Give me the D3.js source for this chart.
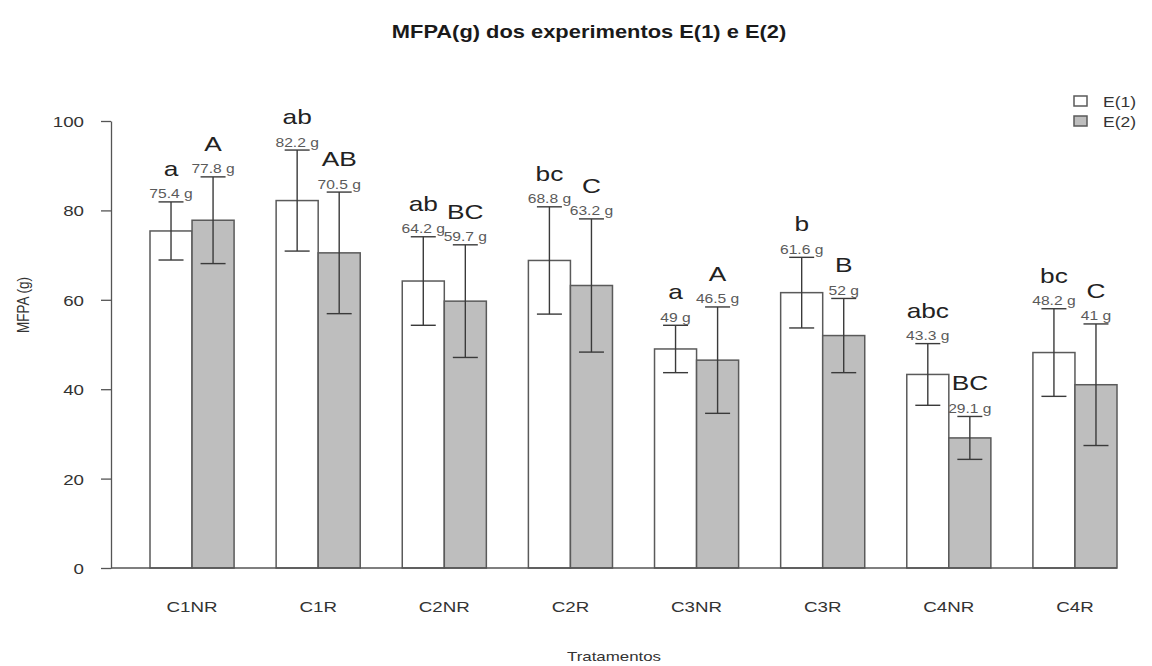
<!DOCTYPE html>
<html>
<head>
<meta charset="utf-8">
<script src="https://cdn.jsdelivr.net/npm/d3@7"></script>
<style>
  html, body { margin: 0; padding: 0; background: #fff; }
  svg { display: block; font-family: "Liberation Sans", Arial, Helvetica, sans-serif; }
</style>
</head>
<body>
<svg id="chart" width="1152" height="666"></svg>
<script>
// Treatments and series
const categories = ["C1NR", "C1R", "C2NR", "C2R", "C3NR", "C3R", "C4NR", "C4R"];
const seriesNames = ["E(1)", "E(2)"];

// Mean fresh mass (g) per treatment
const meansE1 = [75.4, 82.2, 64.2, 68.8, 49, 61.6, 43.3, 48.2];
const meansE2 = [77.8, 70.5, 59.7, 63.2, 46.5, 52, 29.1, 41];

// Error bar half-lengths (g)
const errE1 = [6.5, 11.3, 9.9, 12, 5.3, 7.9, 6.9, 9.8];
const errE2 = [9.7, 13.6, 12.6, 14.9, 11.9, 8.3, 4.8, 13.6];

// Mean-comparison letters
const lettersE1 = ["a", "ab", "ab", "bc", "a", "b", "abc", "bc"];
const lettersE2 = ["A", "AB", "BC", "C", "A", "B", "BC", "C"];

const yTicks = [0, 20, 40, 60, 80, 100];

const rows = categories.map((c, i) => ({
  cat: c,
  values: [
    { key: seriesNames[0], mean: meansE1[i], err: errE1[i], letter: lettersE1[i] },
    { key: seriesNames[1], mean: meansE2[i], err: errE2[i], letter: lettersE2[i] }
  ]
}));

const SX = 1.25; // horizontal glyph stretch used for all text
const fills = { "E(1)": "#ffffff", "E(2)": "#bebebe" };

const svg = d3.select("#chart");

const y = d3.scaleLinear().domain([0, 100]).range([568, 121]);
const x0 = d3.scaleBand().domain(categories).range([150, 1117])
  .paddingInner(1 / 3).paddingOuter(0);
const x1 = d3.scaleBand().domain(seriesNames).range([0, x0.bandwidth()]).padding(0);

function stretchedText(sel, x, yy, size) {
  return sel.append("text")
    .attr("transform", `translate(${x},${yy}) scale(${SX},1)`)
    .attr("font-size", size);
}

// Title
stretchedText(svg, 589, 38, 17.5)
  .attr("text-anchor", "middle")
  .attr("font-weight", "bold")
  .attr("fill", "#1a1a1a")
  .text("MFPA(g) dos experimentos E(1) e E(2)");

// Y axis
const yAxis = svg.append("g")
  .attr("transform", "translate(111,0)")
  .call(d3.axisLeft(y).tickValues(yTicks).tickSize(10).tickSizeOuter(0));
yAxis.select(".domain").attr("stroke", "#555").attr("stroke-width", 1.3);
yAxis.selectAll(".tick line").attr("stroke", "#555").attr("stroke-width", 1.3);
yAxis.selectAll(".tick text")
  .attr("x", -27 / SX)
  .attr("dy", "0.36em")
  .attr("transform", `scale(${SX},1)`)
  .attr("font-size", 15)
  .attr("font-family", "Liberation Sans, Arial, sans-serif")
  .attr("fill", "#333");

// Y axis title
svg.append("text")
  .attr("transform", `translate(29,305) rotate(-90) scale(1,${SX})`)
  .attr("text-anchor", "middle")
  .attr("font-size", 13.5)
  .attr("fill", "#333")
  .text("MFPA (g)");

// Bars
const groups = svg.append("g").selectAll("g")
  .data(rows).join("g")
  .attr("transform", d => `translate(${x0(d.cat)},0)`);

groups.selectAll("rect")
  .data(d => d.values).join("rect")
  .attr("x", d => x1(d.key))
  .attr("y", d => y(d.mean))
  .attr("width", x1.bandwidth())
  .attr("height", d => y(0) - y(d.mean))
  .attr("fill", d => fills[d.key])
  .attr("stroke", "#5a5a5a")
  .attr("stroke-width", 1.5);

// Error bars
const cap = 12.5;
const eb = groups.selectAll("g.err")
  .data(d => d.values).join("g")
  .attr("class", "err")
  .attr("transform", d => `translate(${x1(d.key) + x1.bandwidth() / 2},0)`);
eb.append("line")
  .attr("x1", 0).attr("x2", 0)
  .attr("y1", d => y(d.mean + d.err)).attr("y2", d => y(d.mean - d.err))
  .attr("stroke", "#3a3a3a").attr("stroke-width", 1.4);
eb.append("line")
  .attr("x1", -cap).attr("x2", cap)
  .attr("y1", d => y(d.mean + d.err)).attr("y2", d => y(d.mean + d.err))
  .attr("stroke", "#3a3a3a").attr("stroke-width", 1.4);
eb.append("line")
  .attr("x1", -cap).attr("x2", cap)
  .attr("y1", d => y(d.mean - d.err)).attr("y2", d => y(d.mean - d.err))
  .attr("stroke", "#3a3a3a").attr("stroke-width", 1.4);

// Value labels and letters above the error bars
eb.each(function (d) {
  const g = d3.select(this);
  const top = y(d.mean + d.err);
  stretchedText(g, 0, top - 3.5, 12.5)
    .attr("text-anchor", "middle")
    .attr("fill", "#5a5a5a")
    .text(`${d.mean} g`);
  stretchedText(g, 0, top - 26, 21)
    .attr("text-anchor", "middle")
    .attr("fill", "#222")
    .text(d.letter);
});

// X axis line and category labels
svg.append("line")
  .attr("x1", 111).attr("x2", 1117)
  .attr("y1", y(0)).attr("y2", y(0))
  .attr("stroke", "#555").attr("stroke-width", 1.3);

const xAxis = svg.append("g")
  .attr("transform", `translate(0,${y(0)})`)
  .call(d3.axisBottom(x0).tickSize(0));
xAxis.select(".domain").remove();
xAxis.selectAll(".tick text")
  .attr("y", 44)
  .attr("dy", 0)
  .attr("transform", `scale(${SX},1)`)
  .attr("font-size", 15)
  .attr("font-family", "Liberation Sans, Arial, sans-serif")
  .attr("fill", "#333");

// X axis title
stretchedText(svg, 614, 661, 13.5)
  .attr("text-anchor", "middle")
  .attr("fill", "#333")
  .text("Tratamentos");

// Legend
const legend = svg.append("g").selectAll("g")
  .data(seriesNames).join("g")
  .attr("transform", (d, i) => `translate(1074,${101 + i * 20})`);
legend.append("rect")
  .attr("x", 0).attr("y", -5)
  .attr("width", 13).attr("height", 10)
  .attr("fill", d => fills[d])
  .attr("stroke", "#5a5a5a")
  .attr("stroke-width", 1.5);
legend.each(function (d) {
  stretchedText(d3.select(this), 29, 5.5, 14)
    .attr("fill", "#333")
    .text(d);
});
</script>
</body>
</html>
